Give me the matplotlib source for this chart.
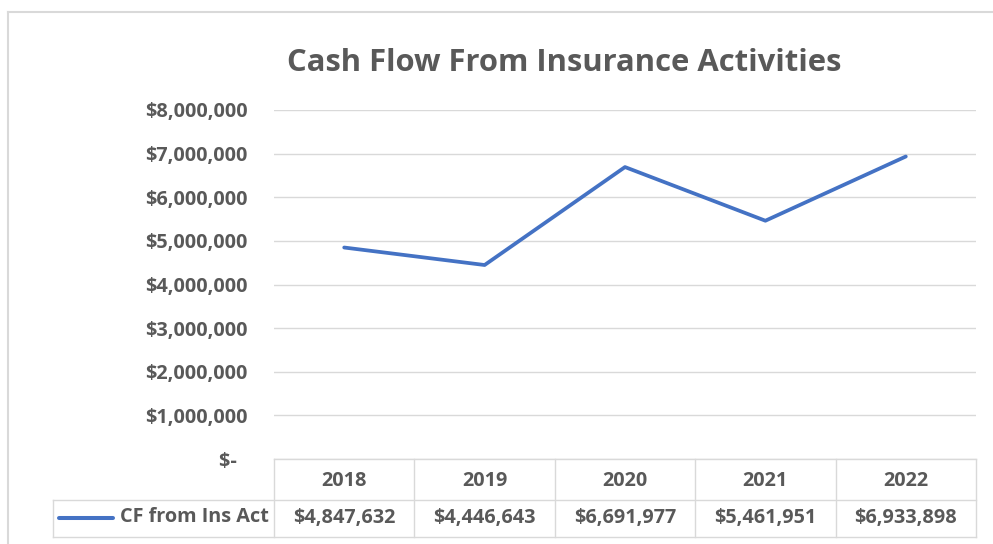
import matplotlib
matplotlib.use("Agg")
import matplotlib.pyplot as plt
from matplotlib.lines import Line2D

years = ["2018", "2019", "2020", "2021", "2022"]
values = [4847632, 4446643, 6691977, 5461951, 6933898]
yticks = [0, 1000000, 2000000, 3000000, 4000000, 5000000, 6000000, 7000000, 8000000]
series_name = "CF from Ins Act"
title = "Cash Flow From Insurance Activities"

W, H = 993, 544
fig = plt.figure(figsize=(W / 100, H / 100), dpi=100)
plt.rcParams['font.family'] = ['Open Sans', 'DejaVu Sans']

TXT = "#595959"
GRID = "#d9d9d9"
LINE = "#4472C4"
FS = 14.3

def fx(px):
    return px / W

def fy(py):
    return 1 - py / H

x0, x1 = 274, 976
ytop, ybot = 110, 459
ax = fig.add_axes([fx(x0), fy(ybot), fx(x1) - fx(x0), fy(ytop) - fy(ybot)])
n = len(years)
xs = list(range(n))
ax.set_xlim(-0.5, n - 0.5)
ax.set_ylim(0, 8000000)
ax.plot(xs, values, color=LINE, lw=2.7, solid_capstyle='round', solid_joinstyle='round', zorder=3)
ax.set_yticks(yticks)
def fmt(v):
    return "$-  " if v == 0 else "${:,.0f}".format(v)
ax.set_yticklabels([fmt(v) for v in yticks], color=TXT, fontsize=FS, fontweight='bold')
ax.tick_params(axis='y', length=0, pad=19)
ax.set_xticks([])
for s in ax.spines.values():
    s.set_visible(False)
ax.grid(axis='y', color=GRID, lw=1)
ax.set_axisbelow(True)

# title
fig.text(fx(564), fy(63), title, ha='center', va='center', fontsize=22.3, fontweight='bold', color=TXT)

# chart border
fig.add_artist(Line2D([fx(8), fx(993)], [fy(11.5), fy(11.5)], color=GRID, lw=1.5))
fig.add_artist(Line2D([fx(8), fx(8)], [fy(11.5), fy(544)], color=GRID, lw=1.5))

# data table
yh_top, yh_bot, yv_bot = 459, 500, 537
legx0 = 53
colw = (x1 - x0) / n
def hline(y, xa, xb):
    fig.add_artist(Line2D([fx(xa), fx(xb)], [fy(y), fy(y)], color=GRID, lw=1))
def vline(x, ya, yb):
    fig.add_artist(Line2D([fx(x), fx(x)], [fy(ya), fy(yb)], color=GRID, lw=1))
hline(yh_top, x0, x1)
hline(yh_bot, legx0, x1)
hline(yv_bot, legx0, x1)
vline(legx0, yh_bot, yv_bot)
for i in range(n + 1):
    vline(x0 + i * colw, yh_top, yv_bot)
for i, (yr, v) in enumerate(zip(years, values)):
    cx = x0 + (i + 0.5) * colw
    fig.text(fx(cx), fy((yh_top + yh_bot) / 2 + 1), yr, ha='center', va='center', fontsize=FS, fontweight='bold', color=TXT)
    fig.text(fx(cx), fy((yh_bot + yv_bot) / 2), "${:,.0f}".format(v), ha='center', va='center', fontsize=FS, fontweight='bold', color=TXT)
ly = (yh_bot + yv_bot) / 2 - 1
fig.add_artist(Line2D([fx(59), fx(113)], [fy(ly), fy(ly)], color=LINE, lw=2.9, solid_capstyle='round'))
fig.text(fx(269), fy(ly), series_name, ha='right', va='center', fontsize=FS, fontweight='bold', color=TXT)

fig.savefig("out.png", dpi=100, facecolor='white')
